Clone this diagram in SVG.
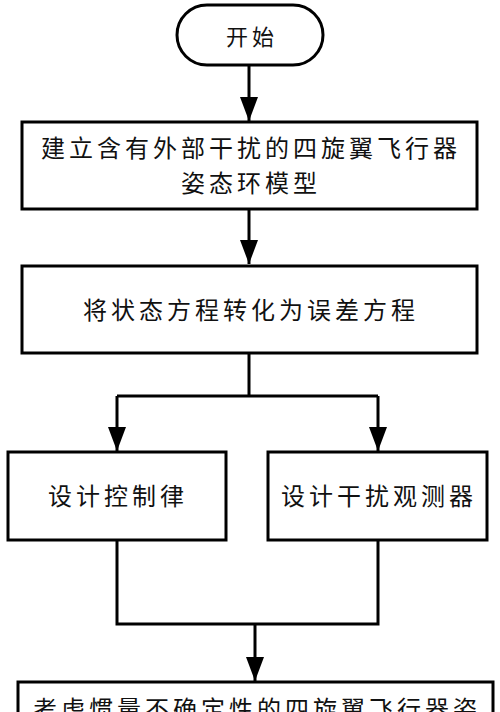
<svg xmlns="http://www.w3.org/2000/svg" width="500" height="712" viewBox="0 0 500 712">
<defs>
<style>
.box{fill:#fff;stroke:#000;stroke-width:3}
.t{font-family:"Noto Sans CJK SC","Noto Sans CJK JP",sans-serif;font-size:24px;fill:#111;text-anchor:middle;letter-spacing:4px}
.c{fill:none;stroke:#000;stroke-width:3}
</style>
<marker id="ah" markerWidth="24" markerHeight="18" refX="24" refY="9" orient="auto" markerUnits="userSpaceOnUse" viewBox="0 0 24 18">
<path d="M0,0 L24,9 L0,18 Z" fill="#000"/>
</marker>
</defs>
<rect width="500" height="712" fill="#fff"/>
<g id="connectors">
<path class="c" d="M249,65 V121" marker-end="url(#ah)"/>
<path class="c" d="M249,209 V264" marker-end="url(#ah)"/>
<path class="c" d="M249,353 V396 M117,396 H378"/>
<path class="c" d="M117,396 V451" marker-end="url(#ah)"/>
<path class="c" d="M378,396 V451" marker-end="url(#ah)"/>
<path class="c" d="M117,540 V624 H378 V540"/>
<path class="c" d="M255,624 V681" marker-end="url(#ah)"/>
</g>
<g id="start">
<rect class="box" x="177" y="5" width="146" height="60" rx="30" ry="30"/>
<text class="t" x="252" y="45" style="font-size:22px">开始</text>
</g>
<g id="model">
<rect class="box" x="22" y="122" width="455" height="87"/>
<text class="t" x="251" y="157">建立含有外部干扰的四旋翼飞行器</text>
<text class="t" x="251" y="192">姿态环模型</text>
</g>
<g id="error">
<rect class="box" x="22" y="266" width="455" height="87"/>
<text class="t" x="251" y="319">将状态方程转化为误差方程</text>
</g>
<g id="control">
<rect class="box" x="8" y="452" width="218" height="88"/>
<text class="t" x="118" y="505">设计控制律</text>
</g>
<g id="observer">
<rect class="box" x="268" y="452" width="219" height="88"/>
<text class="t" x="379" y="505">设计干扰观测器</text>
</g>
<g id="final">
<rect class="box" x="18" y="682" width="475" height="60"/>
<text class="t" x="257" y="718">考虑惯量不确定性的四旋翼飞行器姿</text>
</g>
</svg>
